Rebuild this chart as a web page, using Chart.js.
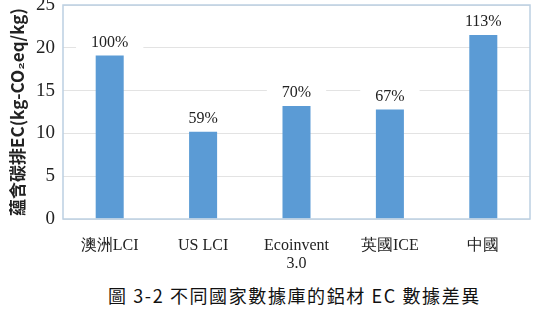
<!DOCTYPE html>
<html>
<head>
<meta charset="utf-8">
<script src="https://cdn.jsdelivr.net/npm/chart.js@4.4.0/dist/chart.umd.min.js"></script>
<style>
  body { margin: 0; background: #fff; }
  #wrap { position: absolute; left: 0; top: 0; width: 538px; height: 272px; }
  #caption {
    position: absolute; left: 108px; top: 282px;
    font-family: "Noto Sans CJK TC", sans-serif; font-size: 18px;
    letter-spacing: 1.6px; color: #111; white-space: pre;
  }
</style>
</head>
<body>
<div id="wrap"><canvas id="ecChart"></canvas></div>
<div id="caption">圖 3-2 不同國家數據庫的鋁材 EC 數據差異</div>
<script>
// values
const categories = ['澳洲LCI', 'US LCI', ['Ecoinvent', '3.0'], '英國ICE', '中國'];
const ecValues = [19.1, 10.2, 13.2, 12.8, 21.5];
const percentLabels = ['100%', '59%', '70%', '67%', '113%'];
const yTicks = [0, 5, 10, 15, 20, 25];

// frame around the plot area
const framePlugin = {
  id: 'frame',
  afterDraw(chart) {
    const { ctx, chartArea: a } = chart;
    ctx.save();
    ctx.strokeStyle = '#bcd0e2';
    ctx.lineWidth = 1.5;
    ctx.strokeRect(a.left, a.top, a.right - a.left, a.bottom - a.top);
    ctx.restore();
  }
};

// percentage labels above bars, on a white box
const pctPlugin = {
  id: 'pct',
  afterDatasetsDraw(chart) {
    const { ctx } = chart;
    const bars = chart.getDatasetMeta(0).data;
    ctx.save();
    ctx.font = '16px "Liberation Serif", serif';
    ctx.textAlign = 'center';
    ctx.textBaseline = 'middle';
    bars.forEach((bar, i) => {
      const txt = percentLabels[i];
      const w = ctx.measureText(txt).width + 30;
      const y = bar.y - 13;
      ctx.fillStyle = '#fff';
      ctx.fillRect(bar.x - w / 2, y - 10, w, 20);
      ctx.fillStyle = '#222';
      ctx.fillText(txt, bar.x, y);
    });
    ctx.restore();
  }
};

new Chart(document.getElementById('ecChart'), {
  type: 'bar',
  data: {
    labels: categories,
    datasets: [{
      data: ecValues,
      backgroundColor: '#5b9bd5',
      categoryPercentage: 1,
      barPercentage: 0.3
    }]
  },
  options: {
    responsive: true,
    maintainAspectRatio: false,
    animation: false,
    layout: { autoPadding: false, padding: { top: 5, right: 8, left: 0, bottom: 0 } },
    plugins: { legend: { display: false }, tooltip: { enabled: false } },
    scales: {
      x: {
        grid: { display: false, drawTicks: false },
        border: { display: false },
        ticks: {
          padding: 18,
          color: '#222',
          maxRotation: 0,
          font: { family: '"Liberation Serif", serif', size: 16, lineHeight: 1.1 }
        },
        afterFit(scale) {
          scale.height = 53;
          scale.paddingLeft = 0;
          scale.paddingRight = 0;
        }
      },
      y: {
        min: 0,
        max: 25,
        afterBuildTicks(scale) { scale.ticks = yTicks.map(v => ({ value: v })); },
        grid: { color: '#e3e3e3', drawTicks: false },
        border: { display: false },
        ticks: {
          padding: 8,
          color: '#222',
          font: { family: '"Liberation Serif", serif', size: 19 }
        },
        title: {
          display: true,
          text: '蘊含碳排EC(kg-CO₂eq/kg)',
          color: '#222',
          padding: { top: 7, bottom: 0 },
          font: { family: '"Noto Sans CJK TC", sans-serif', size: 17, weight: 'bold' }
        },
        afterFit(scale) {
          scale.width = 63;
          scale.paddingTop = 0;
          scale.paddingBottom = 0;
        }
      }
    }
  },
  plugins: [framePlugin, pctPlugin]
});
</script>
</body>
</html>
